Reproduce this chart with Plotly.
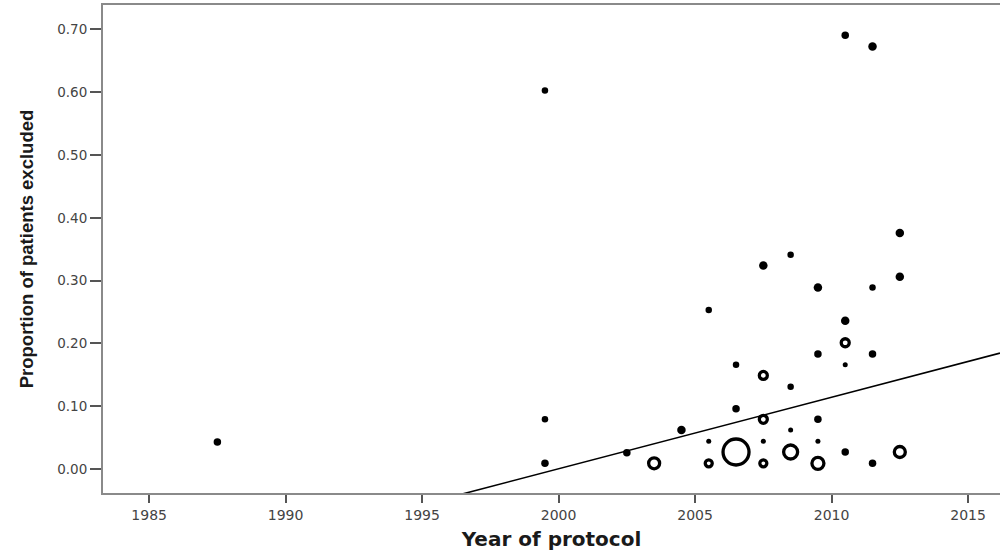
import numpy as np
import plotly.graph_objects as go

# ---- data ----
year = [1987.5, 1999.5, 1999.5, 1999.5, 2002.5, 2003.5, 2004.5,
        2005.5, 2005.5, 2005.5, 2006.5, 2006.5, 2006.5,
        2007.5, 2007.5, 2007.5, 2007.5, 2007.5,
        2008.5, 2008.5, 2008.5, 2008.5,
        2009.5, 2009.5, 2009.5, 2009.5, 2009.5,
        2010.5, 2010.5, 2010.5, 2010.5, 2010.5,
        2011.5, 2011.5, 2011.5, 2011.5,
        2012.5, 2012.5, 2012.5]
proportion = [0.043, 0.603, 0.079, 0.009, 0.026, 0.009, 0.062,
              0.253, 0.044, 0.009, 0.166, 0.096, 0.027,
              0.324, 0.149, 0.079, 0.044, 0.009,
              0.341, 0.131, 0.062, 0.027,
              0.289, 0.183, 0.079, 0.044, 0.009,
              0.691, 0.236, 0.201, 0.166, 0.027,
              0.673, 0.289, 0.183, 0.009,
              0.376, 0.306, 0.027]
weight = [7.5, 6.5, 6.5, 7.5, 7.5, 11, 8.5,
          6.5, 5, 7, 6.5, 7.5, 26,
          8.5, 8, 8, 5, 7,
          6.5, 6.5, 5, 14,
          8.5, 7.5, 7.5, 5, 12,
          7.5, 8.5, 8, 5, 7.5,
          8.5, 6.5, 7.5, 7.5,
          8.5, 8.5, 11]
hollow = [False, False, False, False, False, True, False,
          False, False, True, False, False, True,
          False, True, True, False, True,
          False, False, False, True,
          False, False, False, False, True,
          False, False, True, False, False,
          False, False, False, False,
          False, False, True]

# fitted line: proportion = fit_a + fit_b * (year - 2000)
fit_a = 0.0003
fit_b = 0.01139

x_range = [1983.31, 2016.17]
y_range = [-0.0383, 0.739]
x_ticks = [1985, 1990, 1995, 2000, 2005, 2010, 2015]
y_ticks = [0.0, 0.1, 0.2, 0.3, 0.4, 0.5, 0.6, 0.7]

yr = np.array(year)
pr = np.array(proportion)
wt = np.array(weight)
ho = np.array(hollow)

fig = go.Figure()

fx = np.array(x_range)
fig.add_trace(go.Scatter(x=fx, y=fit_a + fit_b * (fx - 2000), mode="lines",
                         line=dict(color="black", width=1.6),
                         hoverinfo="skip", showlegend=False))

fig.add_trace(go.Scatter(x=yr[~ho], y=pr[~ho], mode="markers",
                         marker=dict(size=wt[~ho], color="#000000", opacity=1,
                                     line=dict(width=0)),
                         showlegend=False))
fig.add_trace(go.Scatter(x=yr[ho], y=pr[ho], mode="markers",
                         marker=dict(size=wt[ho], color="white", opacity=1,
                                     line=dict(width=3.3, color="#000000")),
                         showlegend=False))

axis_col = "#8a8a8a"
fig.update_layout(
    width=1000, height=552,
    margin=dict(l=103, r=0, t=5, b=59),
    paper_bgcolor="white", plot_bgcolor="white",
    font=dict(family="DejaVu Sans", color="#444444"),
    xaxis=dict(range=x_range, tickvals=x_ticks, ticktext=[str(t) for t in x_ticks],
               showgrid=False, zeroline=False, showline=True, mirror=True,
               linecolor=axis_col, linewidth=2,
               ticks="outside", ticklen=8, tickwidth=2, tickcolor="#555555",
               tickfont=dict(size=14, color="#444444"),
               title=dict(text="<b>Year of protocol</b>", standoff=10,
                          font=dict(size=20, color="#1a1a1a", family="DejaVu Sans"))),
    yaxis=dict(range=y_range, tickvals=y_ticks,
               ticktext=[f"{t:.2f}" for t in y_ticks],
               showgrid=False, zeroline=False, showline=True,
               linecolor=axis_col, linewidth=2,
               ticks="outside", ticklen=11, tickwidth=2, tickcolor="#555555",
               tickfont=dict(size=13.5, color="#444444"),
               title=dict(text="<b>Proportion of patients excluded</b>", standoff=19,
                          font=dict(size=18.5, color="#1a1a1a",
                                    family="Liberation Sans"))),
)

fig.write_html("out.html", config={"displayModeBar": False},
               post_script="document.body.style.margin='0';")
